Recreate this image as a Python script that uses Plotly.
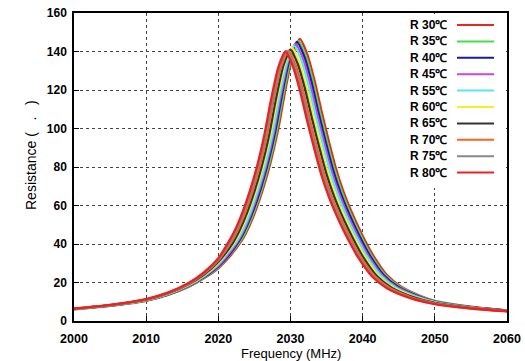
import plotly.graph_objects as go

# ---------------- data ----------------
series_names = ["R 30℃", "R 35℃", "R 40℃", "R 45℃", "R 55℃",
                "R 60℃", "R 65℃", "R 70℃", "R 75℃", "R 80℃"]
series_colors = ["#e8281e", "#44e044", "#1a1aa8", "#cc44dd", "#55e8ee",
                 "#f2f226", "#333333", "#ff6020", "#888888", "#ee2020"]

x_r30 = [2000, 2005, 2010, 2013, 2016, 2018, 2020, 2021.5, 2023.3, 2024.3, 2025.3, 2026.3, 2027.3, 2028.3, 2029.3, 2030.3, 2031.3,
         2032.3, 2033.3, 2034.3, 2035.3, 2036.3, 2037.3, 2038.3, 2039.3, 2040.3, 2041.3, 2043.3, 2045.3, 2048.3, 2050, 2055, 2060]
y_r30 = [6.1, 7.9, 10.5, 13.5, 18.0, 22.2, 27.4, 33.2, 42.1, 49.3, 58.6, 69.9, 83.3, 99.7, 120.3, 137.8, 146.5,
         138.8, 125.4, 109.0, 93.5, 79.2, 67.6, 58.1, 49.7, 41.9, 35.0, 24.2, 18.0, 12.6, 10.5, 7.4, 5.5]

x_r35 = [2000, 2005, 2010, 2013, 2016, 2018, 2020, 2021.5, 2023.1, 2024.1, 2025.1, 2026.1, 2027.1, 2028.1, 2029.1, 2030.1, 2031.1,
         2032.1, 2033.1, 2034.1, 2035.1, 2036.1, 2037.1, 2038.1, 2039.1, 2040.1, 2041.1, 2043.1, 2045.1, 2048.1, 2050, 2055, 2060]
y_r35 = [6.1, 8.0, 10.6, 13.6, 18.2, 22.5, 27.9, 34.0, 41.9, 49.0, 58.2, 69.4, 82.7, 99.0, 119.5, 136.8, 145.5,
         137.8, 124.6, 108.2, 92.9, 78.6, 67.2, 57.7, 49.3, 41.7, 34.7, 24.0, 17.9, 12.6, 10.3, 7.3, 5.4]

x_r40 = [2000, 2005, 2010, 2013, 2016, 2018, 2020, 2021.5, 2022.9, 2023.9, 2024.9, 2025.9, 2026.9, 2027.9, 2028.9, 2029.9, 2030.9,
         2031.9, 2032.9, 2033.9, 2034.9, 2035.9, 2036.9, 2037.9, 2038.9, 2039.9, 2040.9, 2042.9, 2044.9, 2047.9, 2050, 2055, 2060]
y_r40 = [6.2, 8.0, 10.7, 13.7, 18.4, 22.8, 28.4, 34.4, 41.7, 48.9, 58.0, 69.2, 82.5, 98.7, 119.1, 136.4, 145.0,
         137.4, 124.2, 107.9, 92.6, 78.4, 67.0, 57.5, 49.2, 41.5, 34.6, 23.9, 17.8, 12.6, 10.1, 7.2, 5.4]

x_r45 = [2000, 2005, 2010, 2013, 2016, 2018, 2020, 2021.3, 2022.7, 2023.7, 2024.7, 2025.7, 2026.7, 2027.7, 2028.7, 2029.7, 2030.7,
         2031.7, 2032.7, 2033.7, 2034.7, 2035.7, 2036.7, 2037.7, 2038.7, 2039.7, 2040.7, 2042.7, 2044.7, 2047.7, 2050, 2055, 2060]
y_r45 = [6.2, 8.1, 10.8, 13.9, 18.6, 23.1, 28.9, 34.3, 41.5, 48.5, 57.6, 68.7, 81.9, 98.1, 118.3, 135.5, 144.0,
         136.5, 123.3, 107.2, 92.0, 77.8, 66.5, 57.1, 48.8, 41.2, 34.4, 23.8, 17.7, 12.5, 10.0, 7.1, 5.3]

x_r55 = [2000, 2005, 2010, 2013, 2016, 2018, 2020, 2022.5, 2023.5, 2024.5, 2025.5, 2026.5, 2027.5, 2028.5, 2029.5, 2030.5,
         2031.5, 2032.5, 2033.5, 2034.5, 2035.5, 2036.5, 2037.5, 2038.5, 2039.5, 2040.5, 2042.5, 2044.5, 2047.5, 2050, 2055, 2060]
y_r55 = [6.2, 8.1, 10.9, 14.0, 18.8, 23.4, 29.5, 41.2, 48.2, 57.2, 68.3, 81.3, 97.4, 117.5, 134.5, 143.0,
         135.5, 122.5, 106.4, 91.4, 77.3, 66.1, 56.7, 48.5, 41.0, 34.1, 23.6, 17.6, 12.5, 9.8, 7.0, 5.3]

x_r60 = [2000, 2005, 2010, 2013, 2016, 2018, 2020, 2022.2, 2023.2, 2024.2, 2025.2, 2026.2, 2027.2, 2028.2, 2029.2, 2030.2,
         2031.2, 2032.2, 2033.2, 2034.2, 2035.2, 2036.2, 2037.2, 2038.2, 2039.2, 2040.2, 2042.2, 2044.2, 2047.2, 2050, 2055, 2060]
y_r60 = [6.3, 8.2, 11.0, 14.2, 19.1, 23.8, 30.3, 40.8, 47.8, 56.8, 67.7, 80.7, 96.6, 116.5, 133.5, 142.0,
         134.5, 121.5, 105.6, 90.6, 76.7, 65.5, 56.3, 48.1, 40.6, 33.9, 23.4, 17.4, 12.4, 9.6, 6.9, 5.2]

x_r65 = [2000, 2005, 2010, 2013, 2016, 2018, 2020, 2022, 2023, 2024, 2025, 2026, 2027, 2028, 2029, 2030,
         2031, 2032, 2033, 2034, 2035, 2036, 2037, 2038, 2039, 2040, 2042, 2044, 2047, 2050, 2055, 2060]
y_r65 = [6.3, 8.2, 11.1, 14.3, 19.3, 24.1, 30.8, 40.5, 47.5, 56.4, 67.3, 80.1, 95.9, 115.7, 132.5, 141.0,
         133.5, 120.7, 104.8, 90.0, 76.2, 65.1, 55.9, 47.8, 40.4, 33.6, 23.2, 17.3, 12.4, 9.4, 6.8, 5.2]

x_r70 = [2000, 2005, 2010, 2013, 2016, 2018, 2020, 2021.7, 2022.7, 2023.7, 2024.7, 2025.7, 2026.7, 2027.7, 2028.7, 2029.7,
         2030.7, 2031.7, 2032.7, 2033.7, 2034.7, 2035.7, 2036.7, 2037.7, 2038.7, 2039.7, 2041.7, 2043.7, 2046.7, 2050, 2055, 2060]
y_r70 = [6.4, 8.3, 11.2, 14.5, 19.6, 24.6, 31.6, 40.4, 47.3, 56.2, 67.0, 79.9, 95.6, 115.4, 132.1, 140.5,
         133.1, 120.3, 104.5, 89.7, 75.9, 64.9, 55.7, 47.6, 40.2, 33.5, 23.2, 17.3, 12.3, 9.2, 6.7, 5.1]

x_r75 = [2000, 2005, 2010, 2013, 2016, 2018, 2020, 2021.5, 2022.5, 2023.5, 2024.5, 2025.5, 2026.5, 2027.5, 2028.5, 2029.5,
         2030.5, 2031.5, 2032.5, 2033.5, 2034.5, 2035.5, 2036.5, 2037.5, 2038.5, 2039.5, 2041.5, 2043.5, 2046.5, 2050, 2055, 2060]
y_r75 = [6.4, 8.3, 11.3, 14.6, 19.8, 24.9, 32.1, 40.3, 47.2, 56.1, 66.9, 79.7, 95.4, 115.1, 131.9, 140.2,
         132.8, 120.0, 104.3, 89.5, 75.8, 64.7, 55.6, 47.5, 40.1, 33.5, 23.1, 17.2, 12.3, 9.0, 6.6, 5.1]

x_r80 = [2000, 2005, 2010, 2013, 2016, 2018, 2020, 2021.3, 2022.3, 2023.3, 2024.3, 2025.3, 2026.3, 2027.3, 2028.3, 2029.3,
         2030.3, 2031.3, 2032.3, 2033.3, 2034.3, 2035.3, 2036.3, 2037.3, 2038.3, 2039.3, 2041.3, 2043.3, 2046.3, 2050, 2055, 2060]
y_r80 = [6.5, 8.4, 11.4, 14.7, 20.0, 25.2, 32.6, 40.3, 47.1, 56.0, 66.8, 79.5, 95.3, 114.9, 131.6, 140.0,
         132.6, 119.8, 104.1, 89.4, 75.6, 64.6, 55.5, 47.4, 40.1, 33.4, 23.1, 17.2, 12.3, 8.8, 6.5, 5.0]

x_ticks = [2000, 2010, 2020, 2030, 2040, 2050, 2060]
y_ticks = [0, 20, 40, 60, 80, 100, 120, 140, 160]

xs = [x_r30, x_r35, x_r40, x_r45, x_r55, x_r60, x_r65, x_r70, x_r75, x_r80]
ys = [y_r30, y_r35, y_r40, y_r45, y_r55, y_r60, y_r65, y_r70, y_r75, y_r80]

# ---------------- figure ----------------
W, H = 525, 361
ML, MR, MT, MB = 74, 18, 13, 40
PW, PH = W - ML - MR, H - MT - MB

fig = go.Figure()
for name, col, x, y in zip(series_names, series_colors, xs, ys):
    fig.add_trace(go.Scatter(x=x, y=y, mode="lines", name=name,
                             line=dict(color=col, width=2.3, shape="spline", smoothing=0.6),
                             showlegend=False))

FONT = "Liberation Sans, Arial, Helvetica, sans-serif"
axis_common = dict(showline=True, linecolor="black", linewidth=1.5, mirror=True,
                   ticks="inside", ticklen=5, tickcolor="black",
                   showgrid=True, gridcolor="#444444", gridwidth=1, griddash="dot",
                   zeroline=False, automargin=False)

fig.update_xaxes(range=[2000, 2060], tickvals=x_ticks, ticktext=[str(v) for v in x_ticks],
                 tickfont=dict(family=FONT, size=12.5, color="black", weight="bold"),
                 ticklabelstandoff=5,
                 **axis_common)
fig.update_yaxes(range=[0, 160], tickvals=y_ticks, ticktext=[str(v) for v in y_ticks],
                 tickfont=dict(family=FONT, size=12, color="black", weight="bold"),
                 ticklabelstandoff=3,
                 **axis_common)


def px2paper_x(px):
    return (px - ML) / PW


def px2paper_y(py):
    return (H - MB - py) / PH


# custom legend box (text followed by line sample, as in the original)
shapes = [dict(type="rect", xref="paper", yref="paper", layer="above",
               x0=px2paper_x(365), x1=px2paper_x(506), y0=px2paper_y(188), y1=px2paper_y(14),
               fillcolor="white", line=dict(width=0))]
annotations = []
for i, (name, col) in enumerate(zip(series_names, series_colors)):
    py = 25 + i * 16.4
    annotations.append(dict(xref="paper", yref="paper", x=px2paper_x(449), y=px2paper_y(py),
                            xanchor="right", yanchor="middle", text=name, showarrow=False,
                            font=dict(family=FONT, size=12, color="black", weight="bold")))
    shapes.append(dict(type="line", xref="paper", yref="paper", layer="above",
                       x0=px2paper_x(457), x1=px2paper_x(494), y0=px2paper_y(py), y1=px2paper_y(py),
                       line=dict(color=col, width=2)))

# axis titles placed like the original
annotations.append(dict(xref="paper", yref="paper", x=px2paper_x(31), y=px2paper_y(155),
                        xanchor="center", yanchor="middle", textangle=-90, showarrow=False,
                        text="Resistance (\u00a0\u00a0\u00a0.\u00a0\u00a0\u00a0)",
                        font=dict(family=FONT, size=14, color="black")))
annotations.append(dict(xref="paper", yref="paper", x=0.5, y=px2paper_y(353),
                        xanchor="center", yanchor="middle", showarrow=False,
                        text="Frequency (MHz)",
                        font=dict(family=FONT, size=13, color="black")))

fig.update_layout(width=W, height=H, margin=dict(l=ML, r=MR, t=MT, b=MB),
                  paper_bgcolor="white", plot_bgcolor="white",
                  shapes=shapes, annotations=annotations, showlegend=False)

fig.write_html("out.html")
